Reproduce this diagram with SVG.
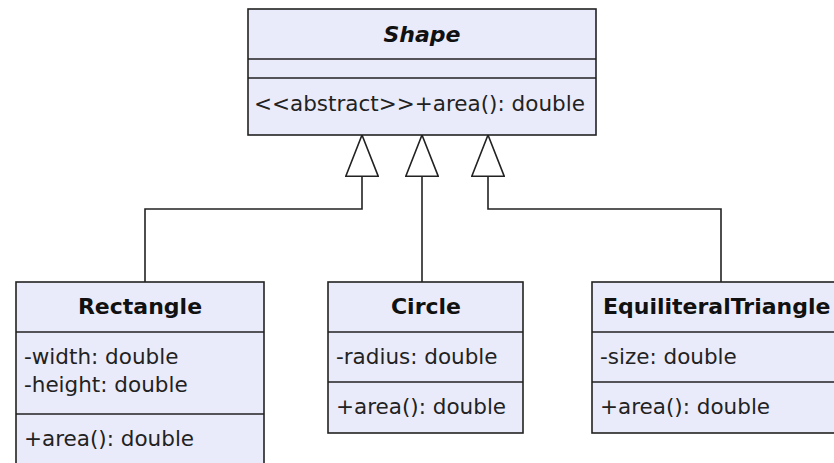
<svg xmlns="http://www.w3.org/2000/svg" width="834" height="463" viewBox="0 0 834 463">
<style>
.box{fill:#eaebfa;stroke:#222;stroke-width:1.6}
.sep{stroke:#222;stroke-width:1.6}
.t{font-family:"DejaVu Sans",Verdana,sans-serif;font-size:21.5px;fill:#222}
.h{font-family:"DejaVu Sans",Verdana,sans-serif;font-size:22px;font-weight:bold;fill:#111;text-anchor:middle}
.conn{fill:none;stroke:#222;stroke-width:1.6}
</style>
<defs>
<marker id="gen" viewBox="0 0 42 34" refX="42" refY="17" markerWidth="42" markerHeight="34" markerUnits="userSpaceOnUse" orient="auto">
<path d="M0.8,0.8 L42,17 L0.8,33.2 Z" fill="#fff" stroke="#222" stroke-width="1.6" stroke-miterlimit="20"/>
</marker>
</defs>
<rect width="834" height="463" fill="#fff"/>
<g id="connectors">
<path class="conn" d="M145,282 V209 H362 V135" marker-end="url(#gen)"/>
<path class="conn" d="M422,282 V135" marker-end="url(#gen)"/>
<path class="conn" d="M721,282 V209 H488 V135" marker-end="url(#gen)"/>
</g>
<g id="Shape">
<rect class="box" x="248" y="9" width="348" height="126"/>
<line class="sep" x1="248" y1="59" x2="596" y2="59"/>
<line class="sep" x1="248" y1="78" x2="596" y2="78"/>
<text class="h" x="422" y="42" font-style="italic">Shape</text>
<text class="t" x="254" y="111">&lt;&lt;abstract&gt;&gt;+area(): double</text>
</g>
<g id="Rectangle">
<rect class="box" x="16" y="282" width="248" height="200"/>
<line class="sep" x1="16" y1="332" x2="264" y2="332"/>
<line class="sep" x1="16" y1="414" x2="264" y2="414"/>
<text class="h" x="140" y="314">Rectangle</text>
<text class="t" x="24" y="364">-width: double</text>
<text class="t" x="24" y="392">-height: double</text>
<text class="t" x="24" y="446">+area(): double</text>
</g>
<g id="Circle">
<rect class="box" x="328" y="282" width="195" height="151"/>
<line class="sep" x1="328" y1="332" x2="523" y2="332"/>
<line class="sep" x1="328" y1="382" x2="523" y2="382"/>
<text class="h" x="426" y="314">Circle</text>
<text class="t" x="336" y="364">-radius: double</text>
<text class="t" x="336" y="414">+area(): double</text>
</g>
<g id="EquiliteralTriangle">
<rect class="box" x="592" y="282" width="260" height="151"/>
<line class="sep" x1="592" y1="332" x2="852" y2="332"/>
<line class="sep" x1="592" y1="382" x2="852" y2="382"/>
<text class="h" x="603" y="314" style="text-anchor:start">EquiliteralTriangle</text>
<text class="t" x="600" y="364">-size: double</text>
<text class="t" x="600" y="414">+area(): double</text>
</g>
</svg>
